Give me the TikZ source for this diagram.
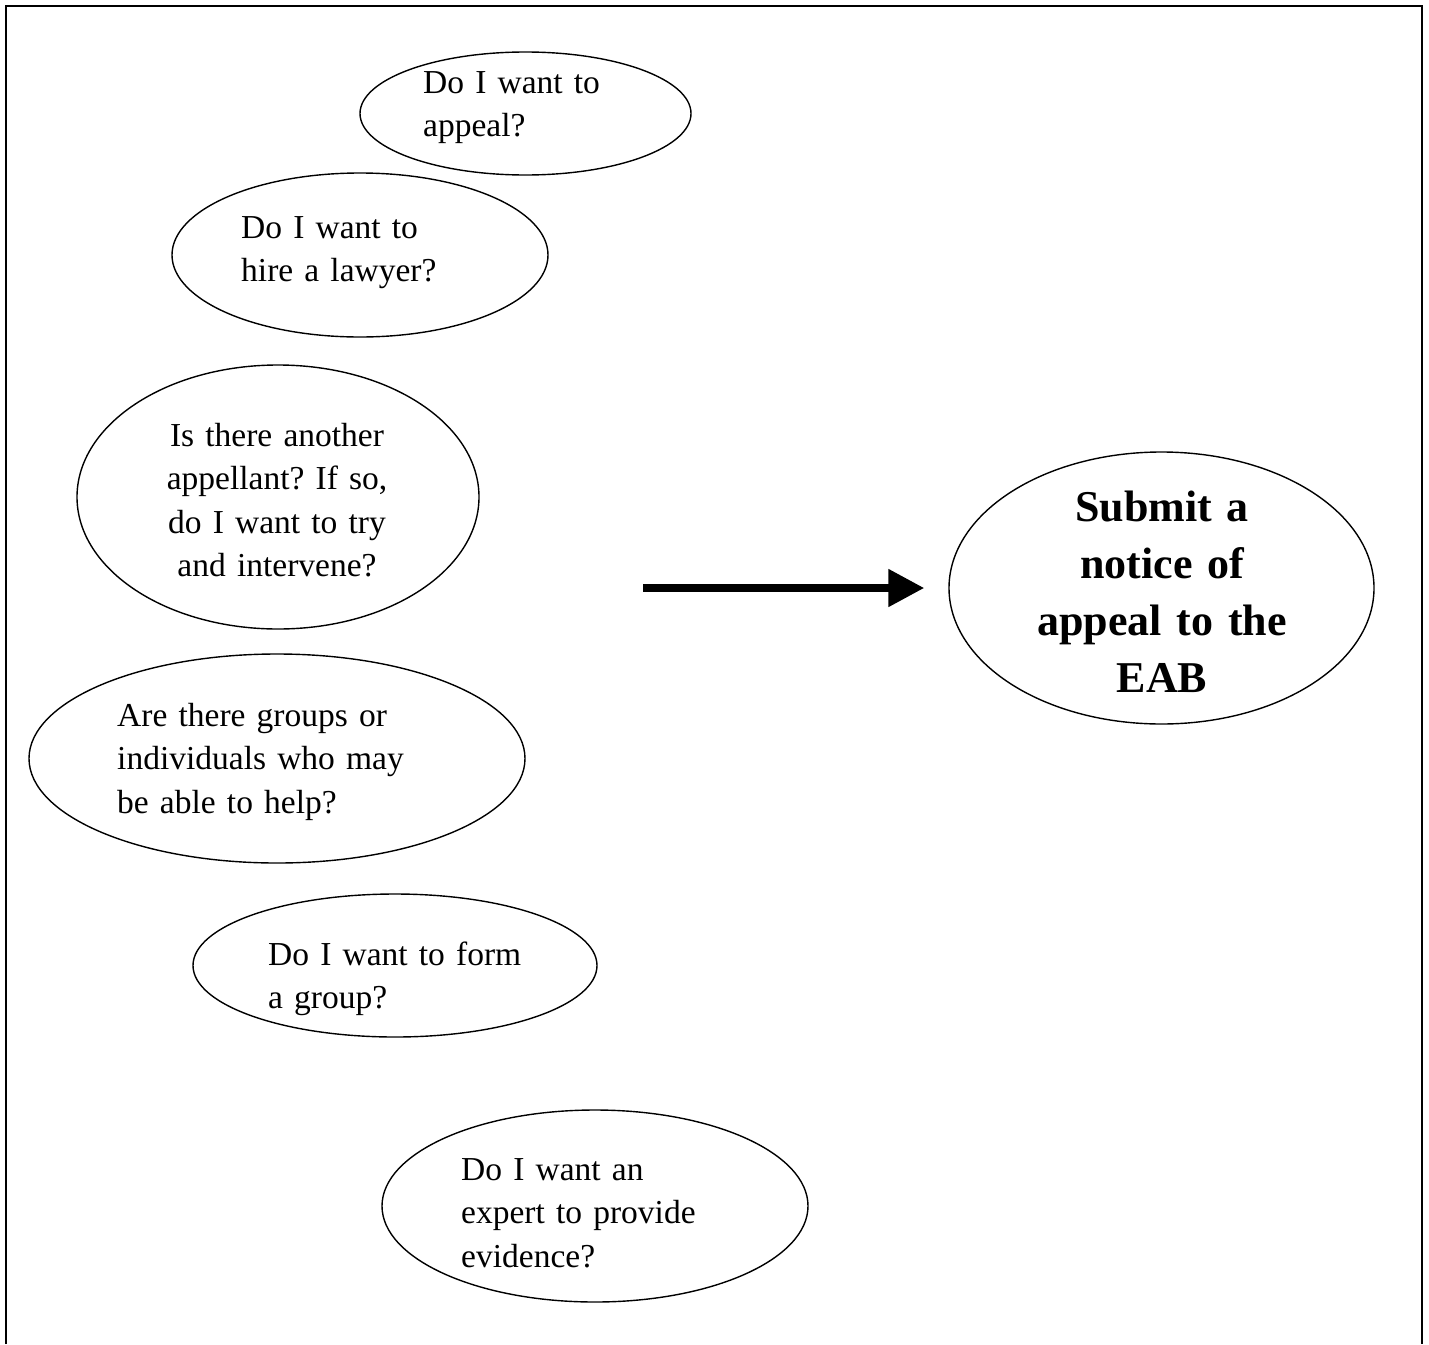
\documentclass[tikz,border=0pt]{standalone}
\usepackage{fontspec}
\setmainfont{Liberation Serif}
\frenchspacing
\usetikzlibrary{shapes.geometric,arrows.meta}

\tikzset{
  bubble/.style={draw, ellipse, line width=1.4pt, inner sep=0pt},
  qtext/.style={inner sep=0pt, text width=420pt, font=\fontsize{33.5}{43.5}\selectfont},
  goaltext/.style={inner sep=0pt, text width=420pt, align=center,
    font=\fontsize{44}{57}\selectfont\bfseries},
  frame/.style={line width=2.6pt},
  bigarrow/.style={line width=8pt, -{Triangle[length=36pt,width=36pt]}}
}

\begin{document}
\begin{tikzpicture}[x=1pt,y=-1pt]
  \useasboundingbox (0,0) rectangle (1429,1344);

  % open frame: left, top and right sides
  \draw[frame] (6,1344) -- (6,6) -- (1422,6) -- (1422,1344);

  % question bubbles
  \node[bubble, minimum width=331pt, minimum height=123pt] (e1) at (525.5,113.5) {};
  \node[bubble, minimum width=376pt, minimum height=164pt] (e2) at (360,255) {};
  \node[bubble, minimum width=402pt, minimum height=264pt] (e3) at (278,497) {};
  \node[bubble, minimum width=496pt, minimum height=209pt] (e4) at (277,758.5) {};
  \node[bubble, minimum width=404pt, minimum height=143pt] (e5) at (395,965.5) {};
  \node[bubble, minimum width=426pt, minimum height=192pt] (e6) at (595,1206) {};

  % goal bubble
  \node[bubble, minimum width=425pt, minimum height=272pt] (e7) at (1161.5,588) {};

  % texts
  \node[qtext, align=left, anchor=base west] (t1) at (423,93) {Do I want to\\appeal?};
  \node[qtext, align=left, anchor=base west] (t2) at (241,238) {Do I want to\\hire a lawyer?};
  \node[qtext, align=center, anchor=base] (t3) at (277,446)
    {Is there another\\appellant? If so,\\do I want to try\\and intervene?};
  \node[qtext, align=left, anchor=base west] (t4) at (117,726)
    {Are there groups or\\individuals who may\\be able to help?};
  \node[qtext, align=left, anchor=base west] (t5) at (268,965) {Do I want to form\\a group?};
  \node[qtext, align=left, anchor=base west] (t6) at (461,1180)
    {Do I want an\\expert to provide\\evidence?};
  \node[goaltext, anchor=base] (t7) at (1162,521) {Submit a\\notice of\\appeal to the\\EAB};

  % arrow towards the goal
  \coordinate (a0) at (643,588);
  \draw[bigarrow, shorten >=24pt] (a0) -- (e7.west);
\end{tikzpicture}
\end{document}
